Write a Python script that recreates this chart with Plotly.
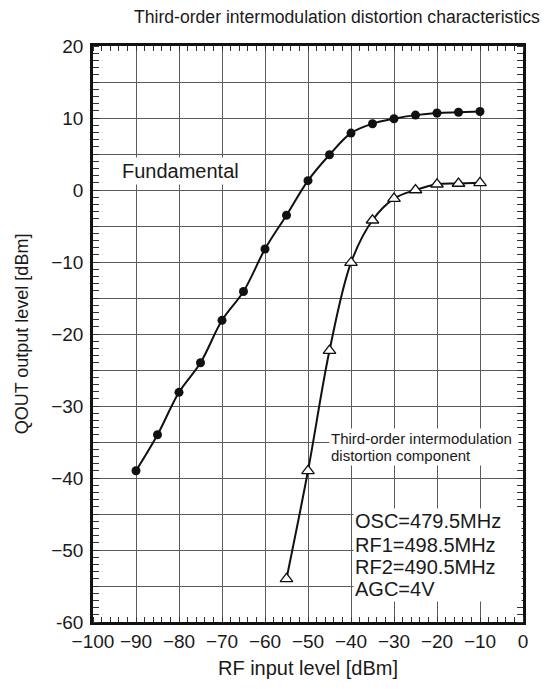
import plotly.graph_objects as go

# ---- data ----
rf_input_fund = [-90, -85, -80, -75, -70, -65, -60, -55, -50, -45, -40, -35, -30, -25, -20, -15, -10]
qout_fund = [-39, -34, -28.1, -24, -18.1, -14.1, -8.2, -3.5, 1.3, 4.9, 7.9, 9.2, 9.9, 10.4, 10.7, 10.8, 10.9]

rf_input_im3 = [-55, -50, -45, -40, -35, -30, -25, -20, -15, -10]
qout_im3 = [-54, -39, -22.3, -10.1, -4.2, -1.2, 0.0, 0.8, 0.9, 1.0]

x_tick_vals = [-100, -90, -80, -70, -60, -50, -40, -30, -20, -10, 0]
x_tick_text = ["\u2212100", "\u221290", "\u221280", "\u221270", "\u221260", "\u221250",
               "\u221240", "\u221230", "\u221220", "\u221210", "0"]
y_tick_vals = [-60, -55, -50, -45, -40, -35, -30, -25, -20, -15, -10, -5, 0, 5, 10, 15, 20]
y_tick_text = ["-60", "", "\u221250", "", "\u221240", "", "\u221230", "", "\u221220", "",
               "\u221210", "", "0", "", "10", "", "20"]

title_text = "Third-order intermodulation distortion characteristics"
x_title = "RF input level [dBm]"
y_title = "QOUT output level [dBm]"
im3_label_lines = ["Third-order intermodulation", "distortion component"]
im3_label_y = [-34.5, -36.9]
cond_lines = ["OSC=479.5MHz", "RF1=498.5MHz", "RF2=490.5MHz", "AGC=4V"]
cond_y = [-46.0, -49.3, -52.3, -55.4]

FONT = "Liberation Sans, Arial, Helvetica, sans-serif"
TXT = "#1a1a1a"

fig = go.Figure()
fig.add_trace(go.Scatter(
    x=rf_input_fund, y=qout_fund, mode="lines+markers",
    line=dict(color="#111111", width=2, shape="spline", smoothing=1.0),
    marker=dict(symbol="circle", size=9, color="#111111"),
    showlegend=False, hoverinfo="skip"))
fig.add_trace(go.Scatter(
    x=rf_input_im3, y=qout_im3, mode="lines+markers",
    line=dict(color="#111111", width=2, shape="spline", smoothing=1.0),
    marker=dict(symbol="triangle-up", size=11, color="white",
                line=dict(color="#111111", width=1.3)),
    showlegend=False, hoverinfo="skip"))

axis_common = dict(
    showline=True, linecolor="#111111", linewidth=2.5, mirror="allticks",
    showgrid=True, gridcolor="#5a5a5a", gridwidth=1, zeroline=False,
    ticks="", tickfont=dict(family=FONT, size=19, color=TXT), automargin=False,
)

fig.update_xaxes(
    range=[-100, 0], tickmode="array", tickvals=x_tick_vals, ticktext=x_tick_text,
    minor=dict(dtick=2, ticks="inside", ticklen=5, tickcolor="#333333", tickwidth=1, showgrid=False),
    title=dict(text=x_title, font=dict(family=FONT, size=20, color=TXT), standoff=11),
    **axis_common)
fig.update_yaxes(
    range=[-60, 20], tickmode="array", tickvals=y_tick_vals, ticktext=y_tick_text,
    minor=dict(dtick=1, ticks="inside", ticklen=6, tickcolor="#333333", tickwidth=1, showgrid=False),
    title=dict(text=y_title, font=dict(family=FONT, size=18, color=TXT), standoff=18),
    ticklabelstandoff=3,
    **axis_common)

fig.add_annotation(text=title_text, xref="paper", yref="paper", x=1.045, y=1.05,
                   xanchor="right", yanchor="middle", showarrow=False,
                   font=dict(family=FONT, size=17.6, color=TXT))
fig.add_annotation(text="Fundamental", x=-94, y=2.7, xanchor="left", yanchor="middle",
                   showarrow=False, bgcolor="white", borderpad=2,
                   font=dict(family=FONT, size=20, color=TXT))
for t, yy in zip(im3_label_lines, im3_label_y):
    fig.add_annotation(text=t, x=-45.2, y=yy, xanchor="left", yanchor="middle", align="left",
                       showarrow=False, bgcolor="white", borderpad=1, width=186,
                       font=dict(family=FONT, size=15, color=TXT))
for t, yy in zip(cond_lines, cond_y):
    fig.add_annotation(text=t, x=-39.5, y=yy, xanchor="left", yanchor="middle",
                       showarrow=False, bgcolor="white", borderpad=1, width=165, align="left",
                       font=dict(family=FONT, size=20, color=TXT))

# page body has an 8px default margin; size/margins account for it
fig.update_layout(
    width=543, height=681,
    margin=dict(l=85, r=28, t=38, b=67, autoexpand=False),
    paper_bgcolor="white", plot_bgcolor="white",
    font=dict(family=FONT, color=TXT),
)

fig.write_html("out.html")
